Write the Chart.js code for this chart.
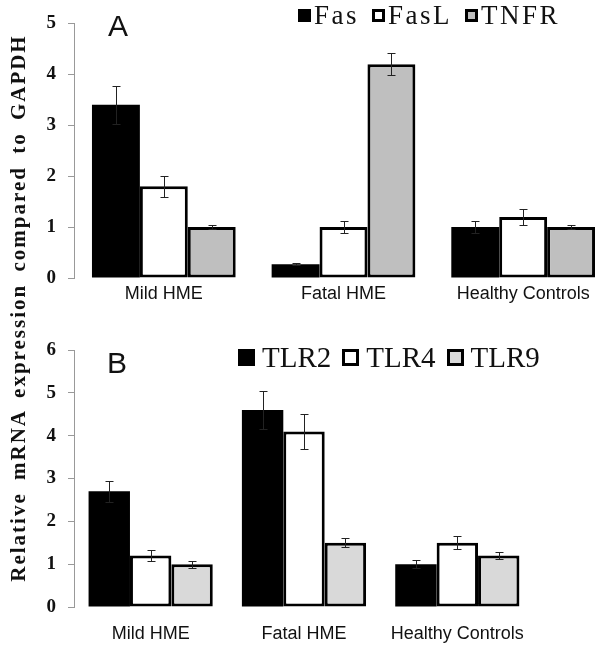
<!DOCTYPE html>
<html>
<head>
<meta charset="utf-8">
<script src="https://cdn.jsdelivr.net/npm/chart.js@4.4.1/dist/chart.umd.min.js"></script>
<style>
  body { margin: 0; width: 600px; height: 648px; overflow: hidden; position: relative; background: #fff; }
  .wrap { position: absolute; left: 0; width: 620px; }
  #wrapA { top: 0; height: 320px; }
  #wrapB { top: 320px; height: 328px; }
  .panel { position: absolute; font-family: "Liberation Sans", Arial, sans-serif; font-size: 30px; color: #111; line-height: 30px; }
  .legend { position: absolute; display: flex; align-items: center; height: 30px; font-family: "Liberation Serif", "Times New Roman", serif; color: #111; white-space: nowrap; }
  .legend span.box { display: inline-block; box-sizing: border-box; }
  #ytitle { position: absolute; width: 580px; height: 26px; line-height: 26px; left: -272px; top: 295px; transform: rotate(-90deg);
    text-align: center; white-space: nowrap; font-family: "Liberation Serif", "Times New Roman", serif; font-weight: bold;
    font-size: 21px; letter-spacing: 2px; word-spacing: 5px; color: #111; }
</style>
</head>
<body>
<div id="wrapA" class="wrap"><canvas id="chartA"></canvas></div>
<div id="wrapB" class="wrap"><canvas id="chartB"></canvas></div>
<div class="panel" style="left:108px; top:11px;">A</div>
<div class="panel" style="left:107px; top:348px;">B</div>
<div id="legendA" class="legend" style="left:298px; top:0px; font-size:27px; letter-spacing:2.5px;"></div>
<div id="legendB" class="legend" style="left:238px; top:342px; font-size:29px;"></div>
<div id="ytitle">Relative mRNA expression compared to GAPDH</div>
<script>
const categories = ['Mild HME', 'Fatal HME', 'Healthy Controls'];

// panel A
const fas = [3.4, 0.27, 1.0];
const fasErr = [0.37, 0.02, 0.12];
const fasL = [1.8, 1.0, 1.2];
const fasLErr = [0.2, 0.12, 0.15];
const tnfr = [1.0, 4.2, 1.0];
const tnfrErr = [0.04, 0.21, 0.04];
const ticksA = [0, 1, 2, 3, 4, 5];

// panel B
const tlr2 = [2.7, 4.6, 1.0];
const tlr2Err = [0.25, 0.45, 0.1];
const tlr4 = [1.2, 4.1, 1.5];
const tlr4Err = [0.12, 0.4, 0.15];
const tlr9 = [1.0, 1.5, 1.2];
const tlr9Err = [0.08, 0.1, 0.08];
const ticksB = [0, 1, 2, 3, 4, 5, 6];

// draws the +/- error whiskers on each bar
const errorBars = {
    id: 'errorBars',
    afterDatasetsDraw(chart) {
        const ctx = chart.ctx;
        const y = chart.scales.y;
        ctx.save();
        ctx.strokeStyle = '#222';
        ctx.lineWidth = 1;
        chart.data.datasets.forEach((ds, i) => {
            chart.getDatasetMeta(i).data.forEach((bar, j) => {
                const v = ds.data[j], e = ds.errors[j];
                const t = Math.round(y.getPixelForValue(v + e)) + 0.5;
                const b = Math.round(y.getPixelForValue(v - e)) + 0.5;
                const x = Math.round(bar.x) + 0.5;
                ctx.beginPath();
                ctx.moveTo(x, t); ctx.lineTo(x, b);
                ctx.moveTo(x - 4, t); ctx.lineTo(x + 4, t);
                ctx.moveTo(x - 4, b); ctx.lineTo(x + 4, b);
                ctx.stroke();
            });
        });
        ctx.restore();
    }
};

function makeDataset(label, data, errors, fill, border) {
    return {
        label: label,
        data: data,
        errors: errors,
        backgroundColor: fill,
        borderColor: '#000',
        borderWidth: border,
        borderSkipped: false,
        barPercentage: 1.0,
    };
}

function makeChart(id, datasets, maxY, tickVals, opts) {
    const ctx = document.getElementById(id).getContext('2d');
    return new Chart(ctx, {
        type: 'bar',
        data: { labels: categories, datasets: datasets },
        plugins: [errorBars],
        options: {
            responsive: true,
            maintainAspectRatio: false,
            animation: false,
            datasets: { bar: { categoryPercentage: opts.catPct } },
            layout: { padding: opts.padding },
            plugins: { legend: { display: false }, tooltip: { enabled: false } },
            scales: {
                x: {
                    grid: { display: false, drawTicks: false },
                    border: { display: false },
                    ticks: {
                        padding: opts.xPad,
                        color: '#111',
                        maxRotation: 0,
                        font: { family: 'Liberation Sans', size: 18 }
                    },
                    afterFit(s) { s.height = opts.xHeight; }
                },
                y: {
                    min: 0,
                    max: maxY,
                    afterBuildTicks(s) { s.ticks = tickVals.map(v => ({ value: v })); },
                    grid: { drawOnChartArea: false, tickLength: 6, color: '#999' },
                    border: { color: '#999' },
                    ticks: {
                        padding: 12,
                        color: '#111',
                        font: { family: 'Liberation Serif', size: 19, weight: 'bold' }
                    },
                    afterFit(s) { s.width = 40; }
                }
            }
        }
    });
}

function buildLegend(el, chart, boxSize, gap, textGap) {
    chart.data.datasets.forEach((ds, i) => {
        const item = document.createElement('span');
        item.style.display = 'inline-flex';
        item.style.alignItems = 'center';
        item.style.marginRight = gap + 'px';
        const box = document.createElement('span');
        box.className = 'box';
        box.style.width = boxSize + 'px';
        box.style.height = boxSize + 'px';
        box.style.background = ds.backgroundColor;
        box.style.border = Math.max(ds.borderWidth, 0) + 'px solid #000';
        box.style.marginRight = textGap + 'px';
        item.appendChild(box);
        item.appendChild(document.createTextNode(ds.label));
        el.appendChild(item);
    });
}

const chartA = makeChart('chartA', [
    makeDataset('Fas', fas, fasErr, '#000', 0),
    makeDataset('FasL', fasL, fasLErr, '#fff', 3),
    makeDataset('TNFR', tnfr, tnfrErr, '#bfbfbf', 3),
], 5, ticksA, { catPct: 0.8, padding: { top: 12, left: 34, right: 7, bottom: 0 }, xHeight: 42, xPad: 5 });

const chartB = makeChart('chartB', [
    makeDataset('TLR2', tlr2, tlr2Err, '#000', 0),
    makeDataset('TLR4', tlr4, tlr4Err, '#fff', 3),
    makeDataset('TLR9', tlr9, tlr9Err, '#d9d9d9', 3),
], 6, ticksB, { catPct: 0.81, padding: { top: 30, left: 34, right: 86, bottom: 0 }, xHeight: 41, xPad: 16 });

buildLegend(document.getElementById('legendA'), chartA, 13, 13, 3);
buildLegend(document.getElementById('legendB'), chartB, 17, 11, 7);
</script>
</body>
</html>
